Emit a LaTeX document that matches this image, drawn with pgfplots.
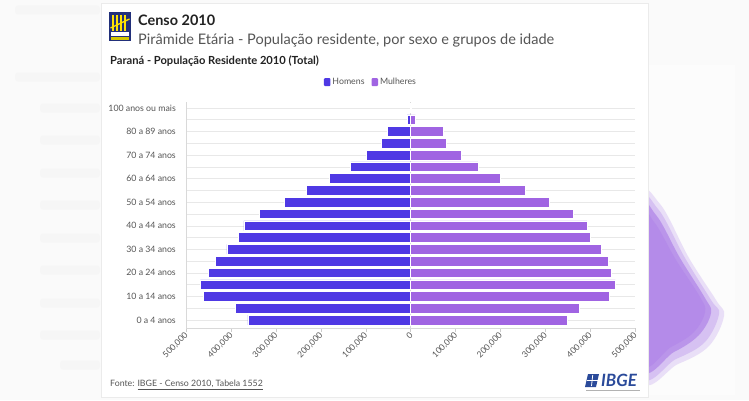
\documentclass[border=0pt]{standalone}
\usepackage{fontspec}
\setmainfont{Lato}
\usepackage{pgfplots}
\pgfplotsset{compat=1.18}
\usepackage{pgfplotstable}
\definecolor{menc}{HTML}{4F39E4}
\definecolor{womc}{HTML}{A064E2}
\definecolor{txtd}{HTML}{222222}
\definecolor{txtg}{HTML}{555555}
\definecolor{navy}{HTML}{22307A}
\definecolor{ibgeb}{HTML}{2A4A9A}
\definecolor{blob}{HTML}{B48BE9}

\pgfplotstableread{
idx men women
0 -362000 350000
1 -390000 376000
2 -462000 443000
3 -468000 456000
4 -450000 447000
5 -435000 441000
6 -409000 424000
7 -383000 401000
8 -371000 393000
9 -336000 362000
10 -281000 308000
11 -231000 255000
12 -180000 200000
13 -133000 150000
14 -98500 113000
15 -64000 79000
16 -52000 74000
17 -7400 11000
18 -400 1000
}\pyramid

\begin{document}
\begin{tikzpicture}[x=1bp,y=1bp]
% page background
\fill[black!2] (0,0) rectangle (749,400);
% blurred page content on the left
\foreach \yy/\xa in {10/15,77/15,108/40,140/40,173/40,205/40,238/40,270/40,303/40,335/40,365/60}{
  \fill[black!3.5, rounded corners=3bp] (\xa,400-\yy-4.5) rectangle (100,400-\yy+4.5);
}
% faint panel on the right
\fill[black!1] (648,5) rectangle (735,335);
% purple blob on the right (soft edges)
\fill[blob, opacity=0.25] plot[smooth cycle, tension=0.6] coordinates {(640,196) (660,196) (689,142) (716,100) (724,84) (709,54) (678,36) (640,25)};
\fill[blob, opacity=0.35] plot[smooth cycle, tension=0.6] coordinates {(640,192) (658,191) (685,142) (711,100) (719,86) (705,58) (676,41) (640,29)};
\fill[blob, opacity=0.8] plot[smooth cycle, tension=0.6] coordinates {(640,187) (656,185) (680,142) (705,102) (711,87) (699,65) (674,48) (640,35)};
\fill[blob] plot[smooth cycle, tension=0.6] coordinates {(640,182) (654,178) (676,140) (700,103) (705,88) (694,68) (671,53) (640,40)};
% card
\fill[white] (101,3) rectangle (648,397);
\draw[black!8] (101,3) rectangle (648,397);

% Censo logo
\fill[navy] (109,359) rectangle (131,388);
\foreach \xx in {113,117,121,125}{\draw[yellow!85!orange, line width=1.3bp] (\xx,385) -- (\xx,369);}
\draw[yellow!85!orange, line width=1.3bp] (110.5,372) -- (129.5,381);
\fill[white] (111,364.5) rectangle (129,367.5);
\fill[yellow!60!olive] (111,360.5) rectangle (129,363.5);

% titles
\node[anchor=base west, inner sep=0pt, text=txtd] at (138,375) {\fontsize{14.5}{16}\selectfont\bfseries Censo 2010};
\node[anchor=base west, inner sep=0pt, text=txtg] at (138,356) {\fontsize{14.6}{16}\selectfont Pirâmide Etária - População residente, por sexo e grupos de idade};
\node[anchor=base west, inner sep=0pt, text=txtd] at (110,336) {\fontsize{11.2}{13}\selectfont\bfseries Paraná - População Residente 2010 (Total)};

% footer
\node[anchor=base west, inner sep=0pt, text=txtg] at (110,13.5) {\fontsize{8.8}{11}\selectfont Fonte: \underline{IBGE - Censo 2010, Tabela 1552}};

% IBGE logo
\fill[ibgeb] (585,13) -- (596,13) -- (599,26) -- (588,26) -- cycle;
\draw[white, line width=0.8bp] (586.5,19.5) -- (597.5,19.5);
\draw[white, line width=0.8bp] (591.5,14) -- (592.7,25);
\node[anchor=base west, inner sep=0pt, text=ibgeb] at (601,13.5) {\fontsize{17}{18}\selectfont\bfseries\itshape IBGE};
\fill[black!30] (586,9) rectangle (640,10.2);

\begin{axis}[
  at={(186bp,72bp)}, anchor=south west,
  width=449bp, height=226bp, scale only axis,
  xmin=-500000, xmax=500000, ymin=-0.68, ymax=18.5,
  xbar, bar width=0.82, bar shift=0pt,
  axis x line*=bottom, axis y line*=left,
  axis line style={draw=black!15},
  xtick={-500000,-400000,-300000,-200000,-100000,0,100000,200000,300000,400000,500000},
  xticklabels={{500,000},{400,000},{300,000},{200,000},{100,000},0,{100,000},{200,000},{300,000},{400,000},{500,000}},
  scaled x ticks=false,
  tick align=outside, major tick length=4bp,
  x tick style={draw=black!20},
  y tick style={draw=none},
  xticklabel style={rotate=45, anchor=east, font=\fontsize{8.5}{10}\selectfont, text=txtg, inner sep=1bp, yshift=-2bp},
  ytick={0,1,...,18},
  yticklabels={0 a 4 anos,,10 a 14 anos,,20 a 24 anos,,30 a 34 anos,,40 a 44 anos,,50 a 54 anos,,60 a 64 anos,,70 a 74 anos,,80 a 89 anos,,100 anos ou mais},
  yticklabel style={font=\fontsize{8.8}{10}\selectfont, text=txtg, inner sep=0pt, xshift=-6bp},
  ymajorgrids, major grid style={draw=black!9},
  legend style={at={(0.412,1.088)}, anchor=center, draw=none, fill=none,
    legend columns=2, font=\fontsize{8.8}{10}\selectfont, text=txtg,
    /tikz/every even column/.append style={column sep=5bp},
    inner sep=0pt},
  legend image code/.code={\fill[#1, draw=none, rounded corners=1bp] (0bp,-4bp) rectangle (6.5bp,4bp);},
  clip=false,
]
\draw[black!15] (axis cs:0,-0.68) -- (axis cs:0,18.5);
\addplot[fill=menc, draw=white, line width=0.6bp] table[x=men, y=idx] {\pyramid};
\addplot[fill=womc, draw=white, line width=0.6bp] table[x=women, y=idx] {\pyramid};
\legend{Homens, Mulheres}
\end{axis}
\pgfresetboundingbox
\useasboundingbox (0,0) rectangle (749,400);
\end{tikzpicture}
\end{document}
